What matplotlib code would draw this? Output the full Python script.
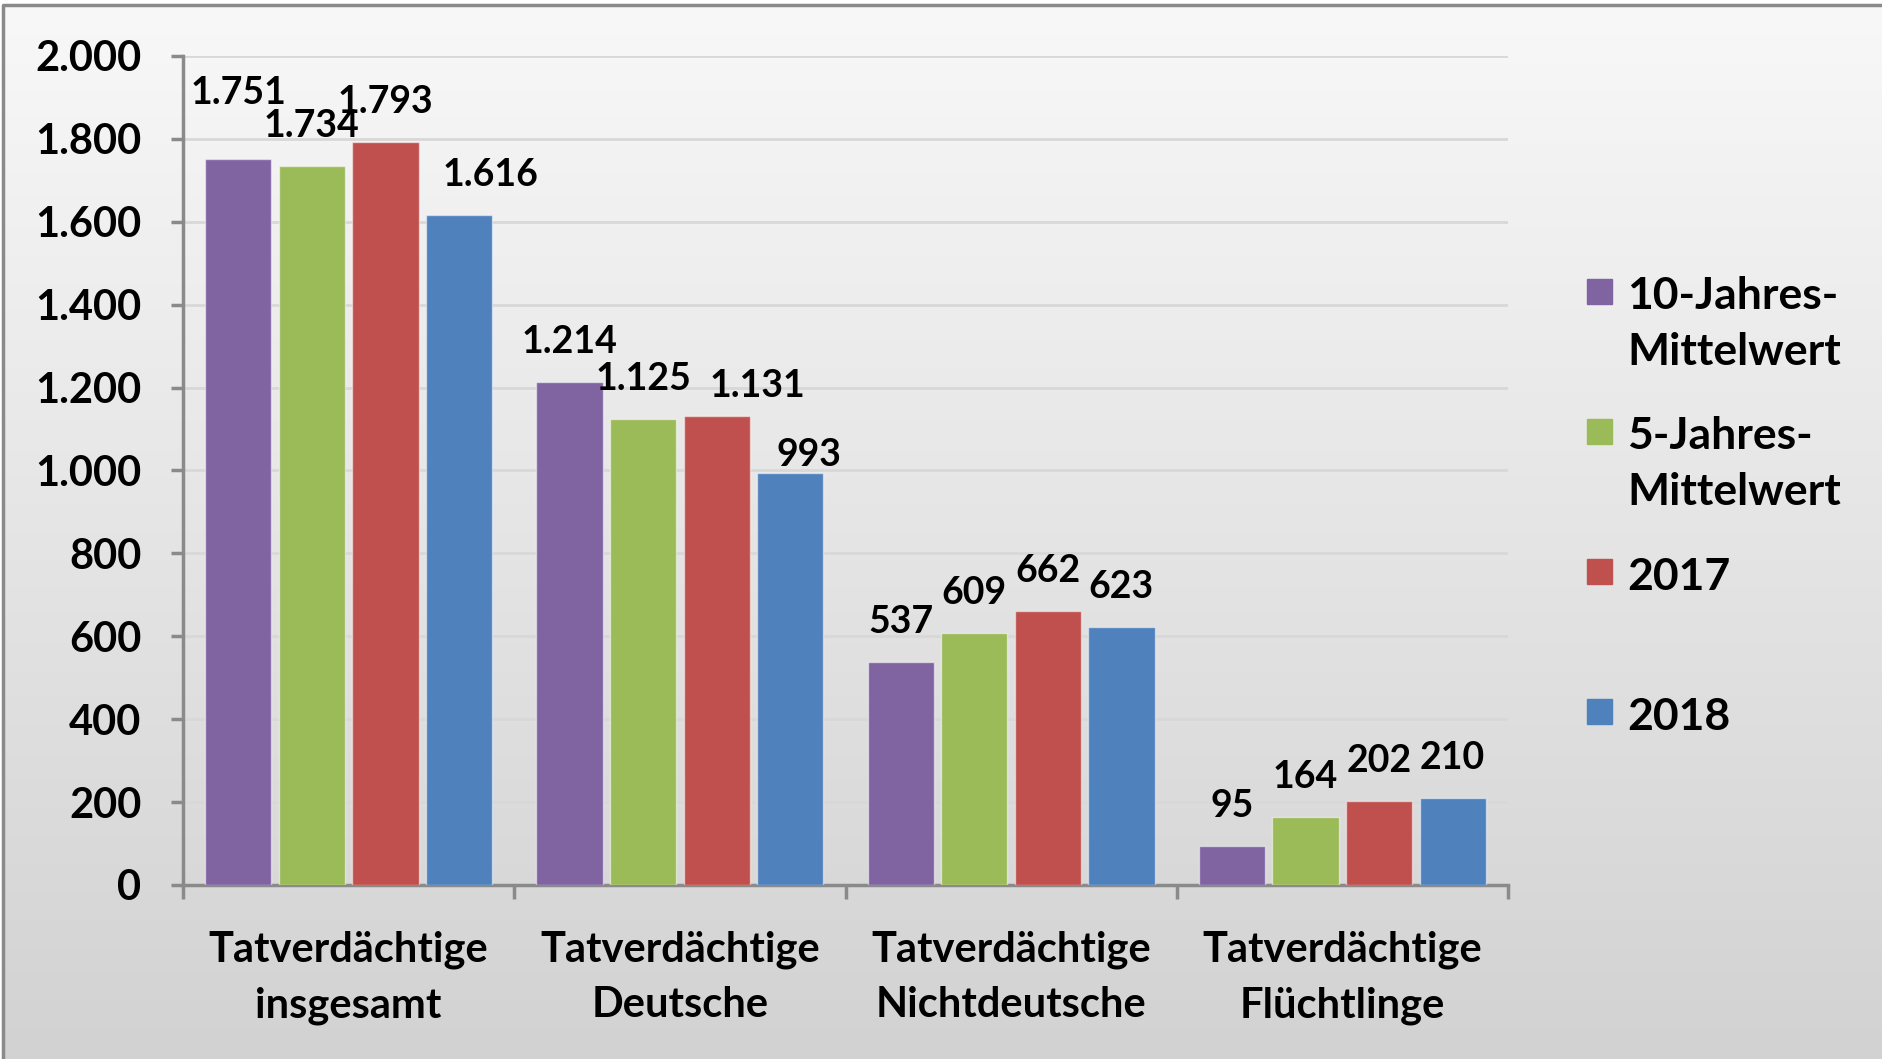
import matplotlib.pyplot as plt
import matplotlib.lines as mlines
import matplotlib.patches as mpatches
from matplotlib.colors import LinearSegmentedColormap
import numpy as np

plt.rcParams['font.family'] = ['Lato', 'DejaVu Sans']
plt.rcParams['font.weight'] = 'bold'

# data
categories = ["Tatverdächtige\ninsgesamt", "Tatverdächtige\nDeutsche",
              "Tatverdächtige\nNichtdeutsche", "Tatverdächtige\nFlüchtlinge"]
series_names = ["10-Jahres-\nMittelwert", "5-Jahres-\nMittelwert", "2017", "2018"]
mittel_10 = [1751, 1214, 537, 95]
mittel_5 = [1734, 1125, 609, 164]
jahr_2017 = [1793, 1131, 662, 202]
jahr_2018 = [1616, 993, 623, 210]
y_ticks = list(range(0, 2001, 200))

values = [mittel_10, mittel_5, jahr_2017, jahr_2018]
colors = ["#8064A2", "#9BBB59", "#C0504D", "#4F81BD"]

# a few labels sit off-center in the original (series, category) -> pixels
nudge = {(0, 0): (0, 26), (3, 0): (32, 0), (2, 1): (41, -10), (3, 1): (19, -22)}


def de(n):
    return f"{n:,}".replace(",", ".")


W, H = 1883, 1059
fig = plt.figure(figsize=(W / 100, H / 100), dpi=100)
fig.patch.set_facecolor("white")

# gradient background inside the frame
bg = fig.add_axes([3 / W, 0, 1, 1 - 5 / H], zorder=-5)
grad = np.linspace(0, 1, 256).reshape(-1, 1)
cmap = LinearSegmentedColormap.from_list("bg", ["#f8f8f8", "#d2d2d2"])
bg.imshow(grad, aspect="auto", cmap=cmap, extent=[0, 1, 0, 1], origin="upper")
bg.axis("off")

# frame lines (top and left)
fig.add_artist(mlines.Line2D([3 / W, 3 / W, 1], [0, 1 - 5 / H, 1 - 5 / H],
                             transform=fig.transFigure, color="#8a8a8a", lw=2.5))

ax = fig.add_axes([183 / W, 1 - 885 / H, (1508 - 183) / W, (885 - 56) / H])
ax.set_facecolor("none")

x = np.arange(len(categories))
step = 0.222
width = 0.2
for i, (vals, c) in enumerate(zip(values, colors)):
    pos = x + (i - 1.5) * step
    bars = ax.bar(pos, vals, width, color=c, edgecolor=(1, 1, 1, 0.5), lw=1, zorder=3)
    for j, b in enumerate(bars):
        dx, dy = nudge.get((i, j), (0, 0))
        ax.annotate(de(vals[j]), (b.get_x() + b.get_width() / 2, b.get_height()),
                    xytext=(dx, 40 + dy), textcoords="offset pixels",
                    ha="center", va="center", fontsize=27, fontweight="bold", zorder=4)

ax.set_xlim(-0.5, 3.5)
ax.set_ylim(0, 2000)
ax.set_yticks(y_ticks)
ax.set_yticklabels([de(v) for v in y_ticks], fontsize=30, fontweight="bold")
ax.yaxis.grid(True, color="#d8d8d8", lw=2, zorder=0)
ax.set_axisbelow(True)

ax.set_xticks(np.arange(len(categories) + 1) - 0.5)
ax.set_xticklabels([])
ax.set_xticks(x, minor=True)
ax.set_xticklabels(categories, minor=True, fontsize=30, fontweight="bold",
                   linespacing=1.55)
ax.tick_params(axis="x", which="minor", length=0, pad=33)
ax.tick_params(axis="x", which="major", length=10, width=2.5, color="#8a8a8a", direction="out")
ax.tick_params(axis="y", length=9, width=2.5, color="#8a8a8a", pad=21)

for s in ["top", "right"]:
    ax.spines[s].set_visible(False)
for s in ["left", "bottom"]:
    ax.spines[s].set_color("#8a8a8a")
    ax.spines[s].set_linewidth(2.5)

# legend drawn by hand so the swatch sits at the first text line
for i, (name, c) in enumerate(zip(series_names, colors)):
    top = 279 + i * 140
    fig.add_artist(mpatches.Rectangle((1587 / W, 1 - (top + 25) / H), 25 / W, 25 / H,
                                      transform=fig.transFigure, color=c))
    base = top + 31 + 55 * name.count("\n")
    fig.text(1627 / W, 1 - base / H, name, fontsize=32, fontweight="bold",
             va="baseline", ha="left", linespacing=1.47)

fig.savefig("out.png", dpi=100)
